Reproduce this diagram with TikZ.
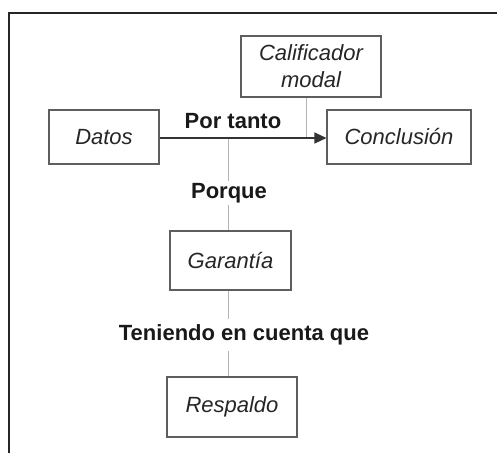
\documentclass[tikz,border=0pt]{standalone}
\usepackage{fontspec}
\setmainfont{Liberation Sans}
\usepackage{tikz}
\usetikzlibrary{arrows, arrows.meta, positioning}
\usepackage{xcolor}

\definecolor{boxgray}{HTML}{5E5E5E}
\definecolor{linkgray}{HTML}{B4B4B4}

\tikzset{
  box/.style={rectangle, draw=boxgray, line width=1.1pt, text=black!85,
              font=\fontsize{22}{27}\selectfont\itshape, align=center},
  tag/.style={font=\fontsize{22}{25}\selectfont\bfseries, text=black!90, inner sep=2pt},
  link/.style={draw=linkgray, line width=1pt}
}

\begin{document}
\begin{tikzpicture}[x=1pt, y=-1pt]
  \useasboundingbox (0, 0) rectangle (497, 453);
  \draw[line width=1.2pt, black!85] (9, 453) -- (9, 13) -- (497, 13);

  \node[box, minimum width=140pt, minimum height=61pt] (calif)    at (311, 66.5) {Calificador\\modal};
  \node[box, minimum width=110pt, minimum height=54pt] (datos)    at (104, 137)  {Datos};
  \node[box, minimum width=144pt, minimum height=54pt] (concl)    at (399, 137)  {Conclusión};
  \node[box, minimum width=121pt, minimum height=59pt] (garantia) at (230.5, 260.5) {Garantía};
  \node[box, minimum width=130pt, minimum height=60pt] (respaldo) at (232, 407)  {Respaldo};

  \node[tag]                  (portanto) at (233, 121) {Por tanto};
  \node[tag]                  (porque)   at (229, 193) {Porque};
  \node[tag, inner ysep=6pt]  (teniendo) at (244, 335) {Teniendo en cuenta que};

  \coordinate (cq) at (306, 138);
  \coordinate (cw) at (228, 138);

  \draw[link] (cq |- calif.south) -- (cq);
  \draw[link] (cw) -- (cw |- porque.north);
  \draw[link] (cw |- porque.south) -- (cw |- garantia.north);
  \draw[link] (cw |- garantia.south) -- (cw |- teniendo.north);
  \draw[link] (cw |- teniendo.south) -- (cw |- respaldo.north);
  \draw[-{Triangle[length=12pt, width=11pt]}, line width=1.2pt, black!80]
    (datos.east |- cw) -- (concl.west |- cw);
\end{tikzpicture}
\end{document}
